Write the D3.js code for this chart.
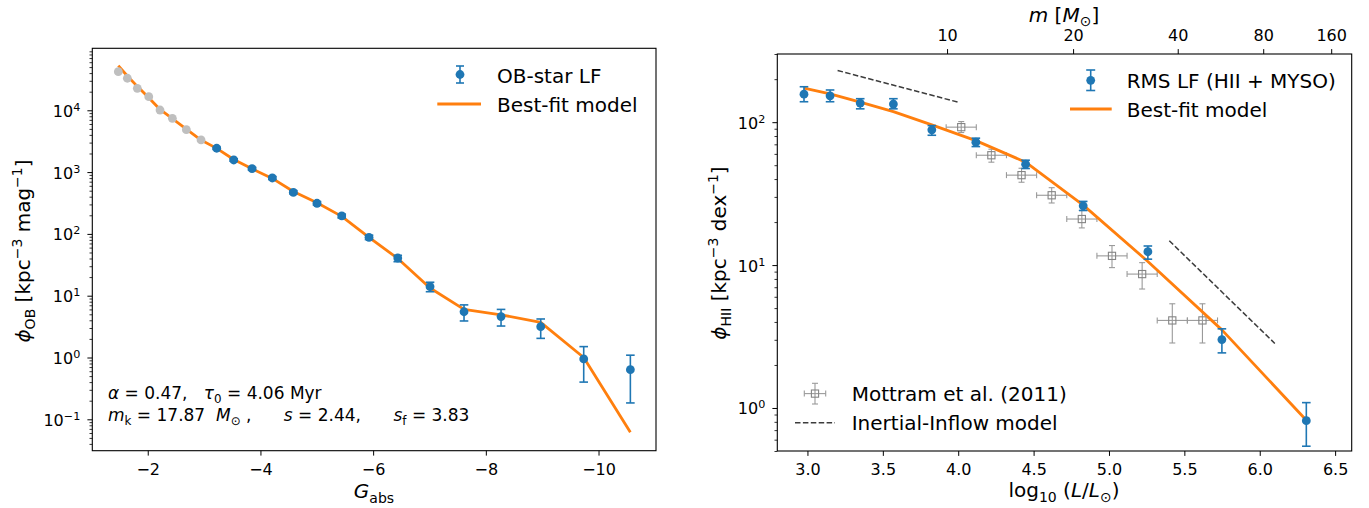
<!DOCTYPE html>
<html><head><meta charset="utf-8">
<script src="https://cdn.jsdelivr.net/npm/d3@7"></script>
<style>
body{margin:0;background:#fff}
svg{display:block}
text{font-family:"DejaVu Sans",sans-serif;fill:#000;white-space:pre}
</style>
</head><body>
<svg id="fig" width="1369" height="508"></svg>
<script>
// ---------- Left panel: OB-star luminosity function ----------
// faint bins (grey, not fitted)
const obFaintG   = [-1.478, -1.638, -1.815, -2.018, -2.218, -2.437, -2.685, -2.946];
const obFaintPhi = [42170, 33000, 22700, 16600, 10100, 7420, 4860, 3310];
// fitted bins with 1-sigma bounds
const obG   = [-3.224, -3.526, -3.851, -4.211, -4.584, -5.004, -5.443, -5.927, -6.437, -7.01, -7.613, -8.27, -8.974, -9.737, -10.565];
const obPhi = [2430, 1570, 1135, 803, 471, 313, 195, 88, 40.7, 14.0, 5.5, 4.6, 3.15, 0.95, 0.635];
const obLo  = [2330, 1500, 1080, 760, 445, 293, 181, 81, 35.5, 11.6, 3.9, 3.23, 2.04, 0.40, 0.184];
const obHi  = [2530, 1640, 1190, 846, 497, 333, 209, 95, 45.0, 16.5, 7.1, 6.0, 4.2, 1.5, 1.09];
// best-fit model evaluated at every bin
const obModelG   = obFaintG.concat(obG);
const obModelPhi = [52700, 35900, 24400, 16000, 10300, 7330, 4980, 3300,
                    2420, 1600, 1130, 790, 485, 318, 192, 88, 40, 13.3, 6.0, 4.9, 3.7, 1.0, 0.062];
const obXTicks = [-2, -4, -6, -8, -10];
const obYExp   = [-1, 0, 1, 2, 3, 4];

// ---------- Right panel: RMS (HII + MYSO) luminosity function ----------
const rmsLogL = [2.977, 3.15, 3.35, 3.57, 3.825, 4.117, 4.447, 4.829, 5.258, 5.749, 6.309];
const rmsPhi  = [157, 153, 136, 134, 88.4, 72.4, 50.8, 26.0, 12.4, 3.01, 0.815];
const rmsLo   = [139, 139, 124, 124, 81, 67.5, 47.4, 24.1, 11.0, 2.43, 0.54];
const rmsHi   = [177, 168, 146, 146, 94.7, 77.3, 54.2, 27.9, 13.6, 3.58, 1.09];
const rmsModelPhi = [173, 158, 138, 118.6, 95.8, 74.3, 52.5, 26.3, 10.6, 3.52, 0.82];

const mottramLogL = [4.02, 4.22, 4.42, 4.62, 4.82, 5.02, 5.22, 5.42, 5.62];
const mottramPhi  = [92.3, 58.7, 42.6, 30.8, 21.0, 11.6, 8.65, 4.10, 4.10];
const mottramLo   = [84.6, 52.5, 38.0, 27.2, 18.2, 9.6, 6.8, 2.85, 2.85];
const mottramHi   = [101, 64.7, 47.6, 34.8, 24.1, 13.7, 10.4, 5.36, 5.36];
const mottramDx   = [0.1, 0.1, 0.1, 0.1, 0.1, 0.1, 0.1, 0.1, 0.1];

// Inertial-Inflow model slopes (two reference segments)
const inflowLogL = [[3.2, 4.0], [5.4, 6.1]];
const inflowPhi  = [[230, 138], [14.8, 2.83]];

const rmsXTicks = [3.0, 3.5, 4.0, 4.5, 5.0, 5.5, 6.0, 6.5];
const rmsYExp   = [0, 1, 2];
// secondary (mass) axis: labels and the log L they correspond to
const massTicks    = [10, 20, 40, 80, 160];
const massTickLogL = [3.926, 4.762, 5.456, 6.023, 6.474];

// ---------- styling ----------
const BLUE = "#1f77b4", ORANGE = "#ff7f0e";
const TICK_FS = 16, LABEL_FS = 20;
const svg = d3.select("#fig");

// text with italic / sub / superscript runs
function rich(parent, segs, fs) {
  const t = parent.append("text").attr("font-size", fs);
  let cur = 0;
  segs.forEach(s => {
    const kind = s[1] || "";
    const small = kind.includes("sub") || kind.includes("sup");
    const shift = kind.includes("sub") ? fs * 0.24 : kind.includes("sup") ? -fs * 0.38 : 0;
    const ts = t.append("tspan").attr("font-size", small ? fs * 0.7 : fs).text(s[0]);
    if (kind.includes("i")) ts.attr("font-style", "italic");
    if (shift !== cur) ts.attr("dy", (shift - cur).toFixed(2));
    cur = shift;
  });
  return t;
}
const pow10 = e => [["10"], [String(e).replace("-", "\u2212"), "sup"]];
const fmtNum = v => (v < 0 ? "\u2212" + Math.abs(v) : String(v));

function minorLog(lo, hi) {
  const out = [];
  for (let e = Math.floor(Math.log10(lo)); e <= Math.ceil(Math.log10(hi)); e++)
    for (let m = 2; m <= 9; m++) { const v = m * 10 ** e; if (v >= lo && v <= hi) out.push(v); }
  return out;
}

function styleAxis(g) {
  g.select(".domain").remove();
  g.selectAll(".tick line").attr("stroke", "#000").attr("stroke-width", 1);
}

function errorBar(g, x, y0, y1, cap, color, w) {
  g.append("line").attr("x1", x).attr("x2", x).attr("y1", y0).attr("y2", y1)
    .attr("stroke", color).attr("stroke-width", w);
  [y0, y1].forEach(yy => g.append("line").attr("x1", x - cap).attr("x2", x + cap)
    .attr("y1", yy).attr("y2", yy).attr("stroke", color).attr("stroke-width", w));
}
function hBar(g, x0, x1, y, cap, color, w) {
  g.append("line").attr("x1", x0).attr("x2", x1).attr("y1", y).attr("y2", y)
    .attr("stroke", color).attr("stroke-width", w);
  [x0, x1].forEach(xx => g.append("line").attr("x1", xx).attr("x2", xx)
    .attr("y1", y - cap).attr("y2", y + cap).attr("stroke", color).attr("stroke-width", w));
}

// =================== LEFT PANEL ===================
const L = {x0: 92.3, x1: 656, y0: 48.3, y1: 450.7};
const xL = d3.scaleLinear().domain([-1.016, -11.02]).range([L.x0, L.x1]);
const yL = d3.scaleLog().domain([10 ** -1.508, 10 ** 5.003]).range([L.y1, L.y0]);
const gL = svg.append("g");

// axes
const axLB = gL.append("g").attr("transform", `translate(0,${L.y1})`)
  .call(d3.axisBottom(xL).tickValues(obXTicks).tickSize(4.9).tickSizeOuter(0).tickFormat(fmtNum));
styleAxis(axLB);
axLB.selectAll(".tick text").attr("y", 24.3).attr("dy", null).attr("font-size", TICK_FS)
  .attr("font-family", null);

const axLLm = gL.append("g").attr("transform", `translate(${L.x0},0)`)
  .call(d3.axisLeft(yL).tickValues(minorLog(yL.domain()[0], yL.domain()[1])).tickSize(2.8).tickFormat(""));
styleAxis(axLLm);
axLLm.selectAll(".tick line").attr("stroke-width", 0.8);
const axLL = gL.append("g").attr("transform", `translate(${L.x0},0)`)
  .call(d3.axisLeft(yL).tickValues(obYExp.map(e => 10 ** e)).tickSize(4.9).tickFormat(""));
styleAxis(axLL);
axLL.selectAll(".tick").each(function(d, i) {
  rich(d3.select(this), pow10(obYExp[i]), TICK_FS).attr("x", -12).attr("y", 6).attr("text-anchor", "end");
});

gL.append("rect").attr("x", L.x0).attr("y", L.y0).attr("width", L.x1 - L.x0).attr("height", L.y1 - L.y0)
  .attr("fill", "none").attr("stroke", "#000").attr("stroke-width", 1.1);

// model line
gL.append("path").datum(obModelG.map((g, i) => [g, obModelPhi[i]]))
  .attr("d", d3.line().x(d => xL(d[0])).y(d => yL(d[1])))
  .attr("fill", "none").attr("stroke", ORANGE).attr("stroke-width", 2.8).attr("stroke-linejoin", "round");

// faint bins
gL.append("g").selectAll("circle").data(obFaintG).join("circle")
  .attr("cx", d => xL(d)).attr("cy", (d, i) => yL(obFaintPhi[i])).attr("r", 4.4).attr("fill", "#bfbfbf");

// fitted bins
const gObPts = gL.append("g");
obG.forEach((g, i) => {
  errorBar(gObPts, xL(g), yL(obLo[i]), yL(obHi[i]), 4.3, BLUE, 1.6);
  gObPts.append("circle").attr("cx", xL(g)).attr("cy", yL(obPhi[i])).attr("r", 4.4).attr("fill", BLUE);
});

// axis titles
rich(gL, [["G", "i"], ["abs", "sub"]], LABEL_FS).attr("x", 374).attr("y", 498).attr("text-anchor", "middle");
rich(gL, [["\u03D5", "i"], ["OB", "sub"], [" [kpc"], ["\u22123", "sup"], [" mag"], ["\u22121", "sup"], ["]"]], LABEL_FS)
  .attr("text-anchor", "middle").attr("transform", "translate(30,251) rotate(-90)");

// fit parameters
rich(gL, [["\u03B1", "i"], [" = 0.47,   "], ["\u03C4", "i"], ["0", "sub"], [" = 4.06 Myr"]], 17)
  .attr("x", 108).attr("y", 398.5);
rich(gL, [["m", "i"], ["k", "sub"], [" = 17.87  "], ["M", "i"], ["\u2299", "sub"], [" ,      "], ["s", "i"],
          [" = 2.44,      "], ["s", "i"], ["f", "sub"], [" = 3.83"]], 17)
  .attr("x", 108).attr("y", 421);

// legend
const lgL = gL.append("g");
errorBar(lgL, 460, 66, 83, 4, BLUE, 1.6);
lgL.append("circle").attr("cx", 460).attr("cy", 74.5).attr("r", 4.4).attr("fill", BLUE);
lgL.append("text").attr("x", 497).attr("y", 83.3).attr("font-size", LABEL_FS).text("OB-star LF");
lgL.append("line").attr("x1", 437.3).attr("x2", 481).attr("y1", 104).attr("y2", 104)
  .attr("stroke", ORANGE).attr("stroke-width", 2.8);
lgL.append("text").attr("x", 497).attr("y", 112.3).attr("font-size", LABEL_FS).text("Best-fit model");

// =================== RIGHT PANEL ===================
const R = {x0: 777.3, x1: 1351.7, y0: 54, y1: 451};
const xR = d3.scaleLinear().domain([2.8, 6.61]).range([R.x0, R.x1]);
const yR = d3.scaleLog().domain([0.5, 300]).range([R.y1, R.y0]);
const gR = svg.append("g");

const axRB = gR.append("g").attr("transform", `translate(0,${R.y1})`)
  .call(d3.axisBottom(xR).tickValues(rmsXTicks).tickSize(4.9).tickSizeOuter(0).tickFormat(d3.format(".1f")));
styleAxis(axRB);
axRB.selectAll(".tick text").attr("y", 24).attr("dy", null).attr("font-size", TICK_FS).attr("font-family", null);

const axRT = gR.append("g").attr("transform", `translate(0,${R.y0})`)
  .call(d3.axisTop(xR).tickValues(massTickLogL).tickSize(4.9).tickSizeOuter(0)
    .tickFormat((d, i) => String(massTicks[i])));
styleAxis(axRT);
axRT.selectAll(".tick text").attr("y", -13.5).attr("dy", null).attr("font-size", TICK_FS).attr("font-family", null);

const axRLm = gR.append("g").attr("transform", `translate(${R.x0},0)`)
  .call(d3.axisLeft(yR).tickValues(minorLog(0.5, 300)).tickSize(2.8).tickFormat(""));
styleAxis(axRLm);
axRLm.selectAll(".tick line").attr("stroke-width", 0.8);
const axRL = gR.append("g").attr("transform", `translate(${R.x0},0)`)
  .call(d3.axisLeft(yR).tickValues(rmsYExp.map(e => 10 ** e)).tickSize(4.9).tickFormat(""));
styleAxis(axRL);
axRL.selectAll(".tick").each(function(d, i) {
  rich(d3.select(this), pow10(rmsYExp[i]), TICK_FS).attr("x", -12).attr("y", 6).attr("text-anchor", "end");
});

gR.append("rect").attr("x", R.x0).attr("y", R.y0).attr("width", R.x1 - R.x0).attr("height", R.y1 - R.y0)
  .attr("fill", "none").attr("stroke", "#000").attr("stroke-width", 1.1);

// Mottram et al. (2011)
const gM = gR.append("g");
const MGREY = "#9a9a9a";
mottramLogL.forEach((l, i) => {
  const cx = xR(l), cy = yR(mottramPhi[i]);
  errorBar(gM, cx, yR(mottramLo[i]), yR(mottramHi[i]), 3, MGREY, 1.1);
  hBar(gM, xR(l - mottramDx[i]), xR(l + mottramDx[i]), cy, 3, MGREY, 1.1);
  gM.append("rect").attr("x", cx - 3.6).attr("y", cy - 3.6).attr("width", 7.2).attr("height", 7.2)
    .attr("fill", "none").attr("stroke", "#858585").attr("stroke-width", 1.1);
});

// Inertial-Inflow reference slopes
inflowLogL.forEach((seg, k) => {
  gR.append("path").datum(seg.map((l, j) => [l, inflowPhi[k][j]]))
    .attr("d", d3.line().x(d => xR(d[0])).y(d => yR(d[1])))
    .attr("fill", "none").attr("stroke", "#3c3c3c").attr("stroke-width", 1.5)
    .attr("stroke-dasharray", "5.5,2.4");
});

// best-fit model
gR.append("path").datum(rmsLogL.map((l, i) => [l, rmsModelPhi[i]]))
  .attr("d", d3.line().x(d => xR(d[0])).y(d => yR(d[1])))
  .attr("fill", "none").attr("stroke", ORANGE).attr("stroke-width", 2.8).attr("stroke-linejoin", "round");

// RMS points
const gRp = gR.append("g");
rmsLogL.forEach((l, i) => {
  errorBar(gRp, xR(l), yR(rmsLo[i]), yR(rmsHi[i]), 4.3, BLUE, 1.6);
  gRp.append("circle").attr("cx", xR(l)).attr("cy", yR(rmsPhi[i])).attr("r", 4.4).attr("fill", BLUE);
});

// axis titles
rich(gR, [["log"], ["10", "sub"], [" ("], ["L", "i"], ["/"], ["L", "i"], ["\u2299", "sub"], [")"]], LABEL_FS)
  .attr("x", 1064).attr("y", 497).attr("text-anchor", "middle");
rich(gR, [["m", "i"], [" ["], ["M", "i"], ["\u2299", "sub"], ["]"]], LABEL_FS)
  .attr("x", 1064).attr("y", 21.5).attr("text-anchor", "middle");
rich(gR, [["\u03D5", "i"], ["HII", "sub"], [" [kpc"], ["\u22123", "sup"], [" dex"], ["\u22121", "sup"], ["]"]], LABEL_FS)
  .attr("text-anchor", "middle").attr("transform", "translate(726,253) rotate(-90)");

// legends
const lgR = gR.append("g");
errorBar(lgR, 1090.7, 70, 90.5, 4.5, BLUE, 1.6);
lgR.append("circle").attr("cx", 1090.7).attr("cy", 80.3).attr("r", 4.4).attr("fill", BLUE);
lgR.append("text").attr("x", 1126.7).attr("y", 87.5).attr("font-size", LABEL_FS).text("RMS LF (HII + MYSO)");
lgR.append("line").attr("x1", 1070).attr("x2", 1111.7).attr("y1", 109).attr("y2", 109)
  .attr("stroke", ORANGE).attr("stroke-width", 2.8);
lgR.append("text").attr("x", 1126.7).attr("y", 116.7).attr("font-size", LABEL_FS).text("Best-fit model");

const lgR2 = gR.append("g");
errorBar(lgR2, 815, 383.3, 404, 3, MGREY, 1.1);
hBar(lgR2, 804.3, 825.7, 393.6, 3, MGREY, 1.1);
lgR2.append("rect").attr("x", 815 - 3.6).attr("y", 393.6 - 3.6).attr("width", 7.2).attr("height", 7.2)
  .attr("fill", "none").attr("stroke", "#858585").attr("stroke-width", 1.1);
lgR2.append("text").attr("x", 851.7).attr("y", 400.7).attr("font-size", LABEL_FS).text("Mottram et al. (2011)");
lgR2.append("line").attr("x1", 795).attr("x2", 835).attr("y1", 422.7).attr("y2", 422.7)
  .attr("stroke", "#3c3c3c").attr("stroke-width", 1.5).attr("stroke-dasharray", "5.5,2.4");
lgR2.append("text").attr("x", 851.7).attr("y", 430).attr("font-size", LABEL_FS).text("Inertial-Inflow model");
</script>
</body></html>
